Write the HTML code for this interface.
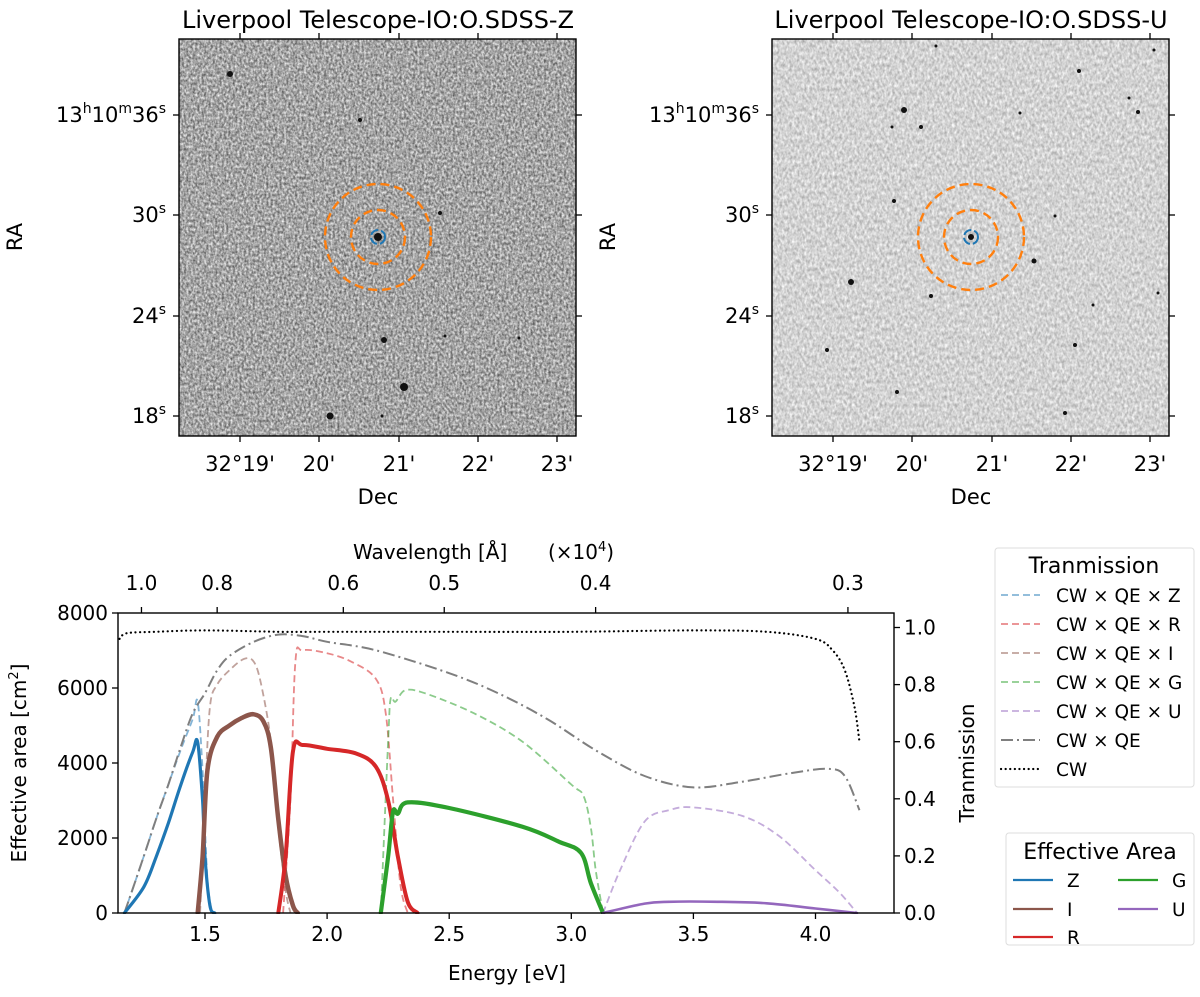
<!DOCTYPE html>
<html><head><meta charset="utf-8">
<style>
html,body{margin:0;padding:0;background:#fff;}
svg text{font-family:"DejaVu Sans","Liberation Sans",sans-serif;fill:#000;}
</style></head>
<body>
<svg id="root" width="1200" height="992" viewBox="0 0 1200 992" xmlns="http://www.w3.org/2000/svg">
<defs>
<filter id="noiseL" x="0" y="0" width="100%" height="100%" color-interpolation-filters="sRGB">
<feTurbulence type="fractalNoise" baseFrequency="0.45 0.35" numOctaves="2" seed="3"/>
<feColorMatrix type="matrix" values="0.85 0 0 0 0.22  0.85 0 0 0 0.22  0.85 0 0 0 0.22  0 0 0 0 1"/>
</filter>
<filter id="noiseR" x="0" y="0" width="100%" height="100%" color-interpolation-filters="sRGB">
<feTurbulence type="fractalNoise" baseFrequency="0.4 0.25" numOctaves="2" seed="7"/>
<feColorMatrix type="matrix" values="0.45 0 0 0 0.6  0.45 0 0 0 0.6  0.45 0 0 0 0.6  0 0 0 0 1"/>
</filter>
</defs>
<g id="panels"></g>
<g id="chart"></g>
</svg>
<script>
// ---------- image panel data ----------
const decTicks = ["32°19'", "20'", "21'", "22'", "23'"];
const raTicks = ["13h10m36s", "30s", "24s", "18s"];
const starsZ = [[230,74,3],[360,120,2],[440,213,2],[384,340,3],[519,338,1.5],[445,336,1.5],[404,387,4],[330,416,3.5],[382,416,1.5],[378,237,4]];
const starsU = [[936,46,1.5],[1154,50,1.5],[1079,71,2],[1129,98,1.5],[1138,112,2],[904,110,3],[1020,113,1.5],[892,127,1.5],[921,127,2],[894,201,2],[1055,216,1.5],[1034,261,2.5],[851,282,3],[931,296,2],[1158,293,1.5],[1093,305,1.5],[827,350,2],[1075,345,2],[897,392,2],[1065,413,2],[971,237,3]];

// ---------- spectral chart data (energy eV / values) ----------
const eCW = [1.15,1.18,1.3,1.5,1.8,2.0,2.5,3.0,3.5,3.8,4.0,4.07,4.12,4.16,4.18];
const tCW = [0.96,0.98,0.985,0.99,0.985,0.985,0.985,0.985,0.99,0.985,0.96,0.92,0.85,0.72,0.6];
const eQE = [1.17,1.25,1.3,1.35,1.4,1.45,1.5,1.55,1.6,1.7,1.8,1.9,2.0,2.2,2.5,2.7,2.9,3.1,3.3,3.5,3.7,3.9,4.05,4.12,4.18];
const tQE = [0,0.2,0.33,0.45,0.58,0.7,0.77,0.85,0.9,0.95,0.975,0.97,0.95,0.92,0.84,0.77,0.68,0.57,0.48,0.44,0.46,0.49,0.505,0.48,0.36];
const eTZ = [1.17,1.25,1.3,1.35,1.4,1.45,1.47,1.49,1.51,1.53];
const tTZ = [0,0.2,0.33,0.45,0.57,0.68,0.74,0.5,0.12,0];
const eTI = [1.48,1.5,1.52,1.55,1.6,1.66,1.7,1.73,1.77,1.8,1.83,1.85];
const tTI = [0,0.4,0.72,0.8,0.85,0.89,0.88,0.8,0.6,0.3,0.08,0];
const eTR = [1.82,1.85,1.87,1.9,2.0,2.1,2.2,2.24,2.27,2.3,2.33];
const tTR = [0,0.4,0.88,0.92,0.91,0.88,0.82,0.7,0.4,0.1,0];
const eTG = [2.22,2.25,2.26,2.28,2.32,2.4,2.6,2.8,3.0,3.05,3.08,3.1,3.13];
const tTG = [0,0.6,0.75,0.74,0.78,0.77,0.7,0.6,0.45,0.41,0.3,0.15,0];
const eTU = [3.13,3.2,3.3,3.4,3.5,3.7,3.85,4.0,4.1,4.17];
const tTU = [0,0.15,0.32,0.36,0.37,0.34,0.27,0.15,0.07,0];
const eAZ = [1.17,1.25,1.3,1.35,1.4,1.45,1.47,1.49,1.5,1.52,1.54];
const aAZ = [0,700,1500,2400,3400,4300,4550,3000,1500,200,0];
const eAI = [1.47,1.49,1.51,1.55,1.6,1.65,1.7,1.74,1.77,1.8,1.83,1.86,1.88];
const aAI = [0,1500,3800,4700,5000,5200,5300,5100,4400,2500,1000,200,0];
const eAR = [1.8,1.83,1.86,1.9,2.0,2.12,2.2,2.25,2.29,2.33,2.37];
const aAR = [0,1500,4300,4480,4380,4250,3900,3000,1500,300,0];
const eAG = [2.22,2.25,2.27,2.29,2.33,2.5,2.8,2.95,3.04,3.08,3.13];
const aAG = [0,1500,2700,2650,2950,2800,2300,1900,1600,800,0];
const eAU = [3.13,3.3,3.4,3.6,3.8,4.0,4.17];
const aAU = [0,250,300,300,260,120,0];
const energyTicks = [1.5,2.0,2.5,3.0,3.5,4.0];
const areaTicks = [0,2000,4000,6000,8000];
const transTicks = [0,0.2,0.4,0.6,0.8,1.0];
const waveTicks = [1.0,0.8,0.6,0.5,0.4,0.3];

const NS="http://www.w3.org/2000/svg";
function mk(parent,tag,attrs,text){const e=document.createElementNS(NS,tag);for(const k in attrs)e.setAttribute(k,attrs[k]);if(text!==undefined)e.textContent=text;parent.appendChild(e);return e;}

// ---------- panels ----------
const panels=document.getElementById('panels');
function panel(x0,title,filt,stars,name){
  const g=mk(panels,'g',{});
  
  
  const W=397,y0=39,H=397;
  const bg=mk(g,'rect',{x:x0,y:y0,width:W,height:H,filter:'url(#'+filt+')'});
  
  
  stars.forEach(s=>{const c=mk(g,'circle',{cx:s[0],cy:s[1],r:s[2],fill:'#111'});
    
    });
  const cx=x0+199, cy=237;
  const o=mk(g,'circle',{cx:cx,cy:cy,r:53,fill:'none',stroke:'#ff7f0e','stroke-width':2.4,'stroke-dasharray':'9 5'});
  
  
  const i=mk(g,'circle',{cx:cx,cy:cy,r:27,fill:'none',stroke:'#ff7f0e','stroke-width':2.4,'stroke-dasharray':'9 5'});
  
  
  const b=mk(g,'circle',{cx:cx,cy:cy,r:7,fill:'none',stroke:'#1f77b4','stroke-width':2,'stroke-dasharray':'9 3'});
  
  
  mk(g,'rect',{x:x0,y:y0,width:W,height:H,fill:'none',stroke:'#000','stroke-width':1.4});
  const t=mk(g,'text',{x:x0+199,y:28,'text-anchor':'middle','font-size':24},title);
  
  
  const dx=[61,140,220,299,378];
  dx.forEach((d,k)=>{const x=x0+d;
    mk(g,'line',{x1:x,x2:x,y1:y0+H,y2:y0+H+6,stroke:'#000','stroke-width':1.3});
    mk(g,'line',{x1:x,x2:x,y1:y0,y2:y0-6,stroke:'#000','stroke-width':1.3});
    const tl=mk(g,'text',{x:x,y:471,'text-anchor':'middle','font-size':21},decTicks[k]);
    
    });
  const ry=[115,215,316,416];
  ry.forEach((y,k)=>{
    mk(g,'line',{x1:x0,x2:x0-6,y1:y,y2:y,stroke:'#000','stroke-width':1.3});
    mk(g,'line',{x1:x0+W,x2:x0+W+6,y1:y,y2:y,stroke:'#000','stroke-width':1.3});
    const tl=mk(g,'text',{x:x0-13,y:y+7,'text-anchor':'end','font-size':21});
    
    
    const m=raTicks[k].match(/^(\d+)h(\d+)m(\d+)s$/);
    if(m){mk(tl,'tspan',{},m[1]);mk(tl,'tspan',{'font-size':14,dy:-9},'h');mk(tl,'tspan',{dy:9},m[2]);mk(tl,'tspan',{'font-size':14,dy:-9},'m');mk(tl,'tspan',{dy:9},m[3]);mk(tl,'tspan',{'font-size':14,dy:-9},'s');}
    else{mk(tl,'tspan',{},raTicks[k].replace('s',''));mk(tl,'tspan',{'font-size':14,dy:-9},'s');}
  });
  const xl=mk(g,'text',{x:x0+199,y:504,'text-anchor':'middle','font-size':21},'Dec');
  
  
  const yl=mk(g,'text',{x:x0-157,y:237,'text-anchor':'middle','font-size':21,transform:'rotate(-90 '+(x0-157)+' 237)'},'RA');
  
  
}
panel(179,'Liverpool Telescope-IO:O.SDSS-Z','noiseL',starsZ,'panel-sdss-z');
panel(772,'Liverpool Telescope-IO:O.SDSS-U','noiseR',starsU,'panel-sdss-u');

// ---------- chart ----------
const C=document.getElementById('chart');
const L=118,R=894,T=613,B=913;
const xE=e=>205+(e-1.5)*244.2;
const yA=a=>B-a*(B-T)/8000;
const yT=t=>B-t*285.5;


function smooth(pts){
  let d='M'+pts[0][0].toFixed(1)+' '+pts[0][1].toFixed(1);
  for(let i=0;i<pts.length-1;i++){
    const p0=pts[Math.max(i-1,0)],p1=pts[i],p2=pts[i+1],p3=pts[Math.min(i+2,pts.length-1)];
    const c1=[p1[0]+(p2[0]-p0[0])/6,p1[1]+(p2[1]-p0[1])/6];
    const c2=[p2[0]-(p3[0]-p1[0])/6,p2[1]-(p3[1]-p1[1])/6];
    c1[0]=Math.min(Math.max(c1[0],p1[0]),p2[0]);c2[0]=Math.min(Math.max(c2[0],p1[0]),p2[0]);
    d+=' C'+c1[0].toFixed(1)+' '+c1[1].toFixed(1)+' '+c2[0].toFixed(1)+' '+c2[1].toFixed(1)+' '+p2[0].toFixed(1)+' '+p2[1].toFixed(1);
  }
  return d;
}
function line(es,vs,yf,attrs,name){
  const pts=es.map((e,k)=>[xE(e),Math.min(yf(vs[k]),B)]);
  const p=mk(C,'path',Object.assign({d:smooth(pts),fill:'none','stroke-linejoin':'round','stroke-linecap':'round','clip-path':'url(#clip)'},attrs));
  
  
}
mk(C,'clipPath',{id:'clip'}).appendChild(document.createElementNS(NS,'rect'));
const cr=C.querySelector('#clip rect');cr.setAttribute('x',L);cr.setAttribute('y',T);cr.setAttribute('width',R-L);cr.setAttribute('height',B-T+1);
const dashT={'stroke-width':1.8,'stroke-dasharray':'7 4','stroke-opacity':0.55,'stroke-linecap':'butt'};
line(eTZ,tTZ,yT,Object.assign({stroke:'#1f77b4'},dashT),'trans-z');
line(eTR,tTR,yT,Object.assign({stroke:'#d62728'},dashT),'trans-r');
line(eTI,tTI,yT,Object.assign({stroke:'#8c564b'},dashT),'trans-i');
line(eTG,tTG,yT,Object.assign({stroke:'#2ca02c'},dashT),'trans-g');
line(eTU,tTU,yT,Object.assign({stroke:'#9467bd'},dashT),'trans-u');
line(eQE,tQE,yT,{stroke:'#7f7f7f','stroke-width':2,'stroke-dasharray':'12 4 2 4','stroke-linecap':'butt'},'trans-cw-qe');
line(eCW,tCW,yT,{stroke:'#000','stroke-width':2.2,'stroke-dasharray':'0.1 4.5','stroke-linecap':'round'},'trans-cw');
line(eAZ,aAZ,yA,{stroke:'#1f77b4','stroke-width':3.2},'area-z');
line(eAI,aAI,yA,{stroke:'#8c564b','stroke-width':4.5},'area-i');
line(eAR,aAR,yA,{stroke:'#d62728','stroke-width':4},'area-r');
line(eAG,aAG,yA,{stroke:'#2ca02c','stroke-width':4.2},'area-g');
line(eAU,aAU,yA,{stroke:'#9467bd','stroke-width':2.6},'area-u');
mk(C,'rect',{x:L,y:T,width:R-L,height:B-T,fill:'none',stroke:'#000','stroke-width':1.4});
energyTicks.forEach(e=>{const x=xE(e);mk(C,'line',{x1:x,x2:x,y1:B,y2:B+6,stroke:'#000','stroke-width':1.3});
  const t=mk(C,'text',{x:x,y:B+28,'text-anchor':'middle','font-size':20},e.toFixed(1));
  
  });
areaTicks.forEach(a=>{const y=yA(a);mk(C,'line',{x1:L,x2:L-6,y1:y,y2:y,stroke:'#000','stroke-width':1.3});
  const t=mk(C,'text',{x:L-10,y:y+7,'text-anchor':'end','font-size':20},String(a));
  
  });
transTicks.forEach(v=>{const y=yT(v);mk(C,'line',{x1:R,x2:R+6,y1:y,y2:y,stroke:'#000','stroke-width':1.3});
  const t=mk(C,'text',{x:R+10,y:y+7,'font-size':20},v.toFixed(1));
  
  });
waveTicks.forEach(w=>{const x=xE(1.23984/w);mk(C,'line',{x1:x,x2:x,y1:T,y2:T-6,stroke:'#000','stroke-width':1.3});
  const t=mk(C,'text',{x:x,y:T-23,'text-anchor':'middle','font-size':20},w.toFixed(1));
  
  });
let t;
t=mk(C,'text',{x:507,y:980,'text-anchor':'middle','font-size':20},'Energy [eV]');


t=mk(C,'text',{x:353,y:559,'font-size':20},'Wavelength [Å]');


t=mk(C,'text',{x:548,y:559,'font-size':20},'(×10');


mk(t,'tspan',{'font-size':13,dy:-8},'4');mk(t,'tspan',{dy:8},')');
t=mk(C,'text',{x:26,y:763,'text-anchor':'middle','font-size':20,transform:'rotate(-90 26 763)'},'Effective area [cm');


mk(t,'tspan',{'font-size':13,dy:-8},'2');mk(t,'tspan',{dy:8},']');
t=mk(C,'text',{x:974,y:763,'text-anchor':'middle','font-size':20,transform:'rotate(-90 974 763)'},'Tranmission');



// legends
const lg1=mk(C,'g',{});


mk(lg1,'rect',{x:995,y:548,width:199,height:239,rx:3,fill:'#fff',stroke:'#ddd'});
mk(lg1,'text',{x:1094,y:573,'text-anchor':'middle','font-size':22},'Tranmission');
const legLabels=['CW × QE × Z','CW × QE × R','CW × QE × I','CW × QE × G','CW × QE × U','CW × QE','CW'];
const legColors=['#1f77b4','#d62728','#8c564b','#2ca02c','#9467bd','#7f7f7f','#000'];
legLabels.forEach((s,k)=>{const y=595+k*29;
  const st={x1:1001,x2:1040,y1:y,y2:y,stroke:legColors[k],'stroke-width':1.8};
  if(k<5){st['stroke-dasharray']='7 4';st['stroke-opacity']=0.55;}
  else if(k==5){st['stroke-dasharray']='12 4 2 4';st['stroke-width']=2;}
  else{st['stroke-dasharray']='0.1 4.5';st['stroke-width']=2.2;st['stroke-linecap']='round';}
  mk(lg1,'line',st);
  const e=mk(lg1,'text',{x:1056,y:y+7,'font-size':18.5},s);
  
  });
const lg2=mk(C,'g',{});


mk(lg2,'rect',{x:1006,y:833,width:188,height:112,rx:3,fill:'#fff',stroke:'#ddd'});
mk(lg2,'text',{x:1100,y:859,'text-anchor':'middle','font-size':22},'Effective Area');
[['Z','#1f77b4',1013,880],['I','#8c564b',1013,909],['R','#d62728',1013,937],['G','#2ca02c',1118,880],['U','#9467bd',1118,909]].forEach(r=>{
  mk(lg2,'line',{x1:r[2],x2:r[2]+40,y1:r[3],y2:r[3],stroke:r[1],'stroke-width':2.2});
  const e=mk(lg2,'text',{x:r[2]+54,y:r[3]+7,'font-size':18.5},r[0]);
  
  });
</script>
</body></html>
